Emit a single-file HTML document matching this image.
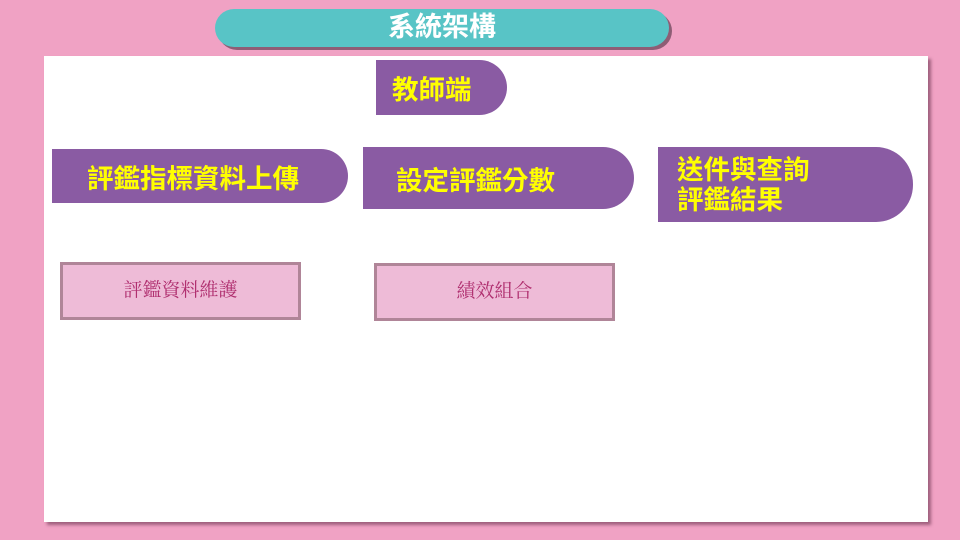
<!DOCTYPE html>
<html><head><meta charset="utf-8"><style>
body{margin:0;width:960px;height:540px;background:#f0a2c4;position:relative;overflow:hidden;font-family:"Liberation Sans","Noto Sans CJK TC",sans-serif}
.a{position:absolute;box-sizing:border-box}
.panel{left:44px;top:56px;width:884px;height:466px;background:#fff;box-shadow:3px 3px 3px #a0607e}
.title{left:215px;top:9px;width:454px;height:38px;background:#58c4c6;border-radius:19px;box-shadow:3px 3px 0 #8e5d75;color:#fff;font-size:27px;font-weight:bold;text-align:center;line-height:36px}
.p{background:#8a5ba3;color:#ffff00;font-weight:bold;font-size:26.5px;display:flex;align-items:center}
.b{background:#eebbd7;border:3px solid #b08598;color:#b03070;font-family:"Liberation Serif","Noto Serif CJK SC",serif;font-size:19px;text-align:center}
</style></head><body>
<div class="a panel"></div>
<div class="a title">系統架構</div>
<div class="a p" style="left:376px;top:60px;width:131px;height:55px;border-radius:0 28px 28px 0;padding-left:16px">教師端</div>
<div class="a p" style="left:52px;top:149px;width:296px;height:54px;border-radius:0 27px 27px 0;padding-left:35px">評鑑指標資料上傳</div>
<div class="a p" style="left:363px;top:147px;width:271px;height:62px;border-radius:0 31px 31px 0;padding-left:33px">設定評鑑分數</div>
<div class="a p" style="left:658px;top:147px;width:255px;height:75px;border-radius:0 37px 37px 0;padding-left:19px;line-height:30px">送件與查詢<br>評鑑結果</div>
<div class="a b" style="left:60px;top:262px;width:241px;height:58px;line-height:52px">評鑑資料維護</div>
<div class="a b" style="left:374px;top:263px;width:241px;height:58px;line-height:52px">績效組合</div>
</body></html>
